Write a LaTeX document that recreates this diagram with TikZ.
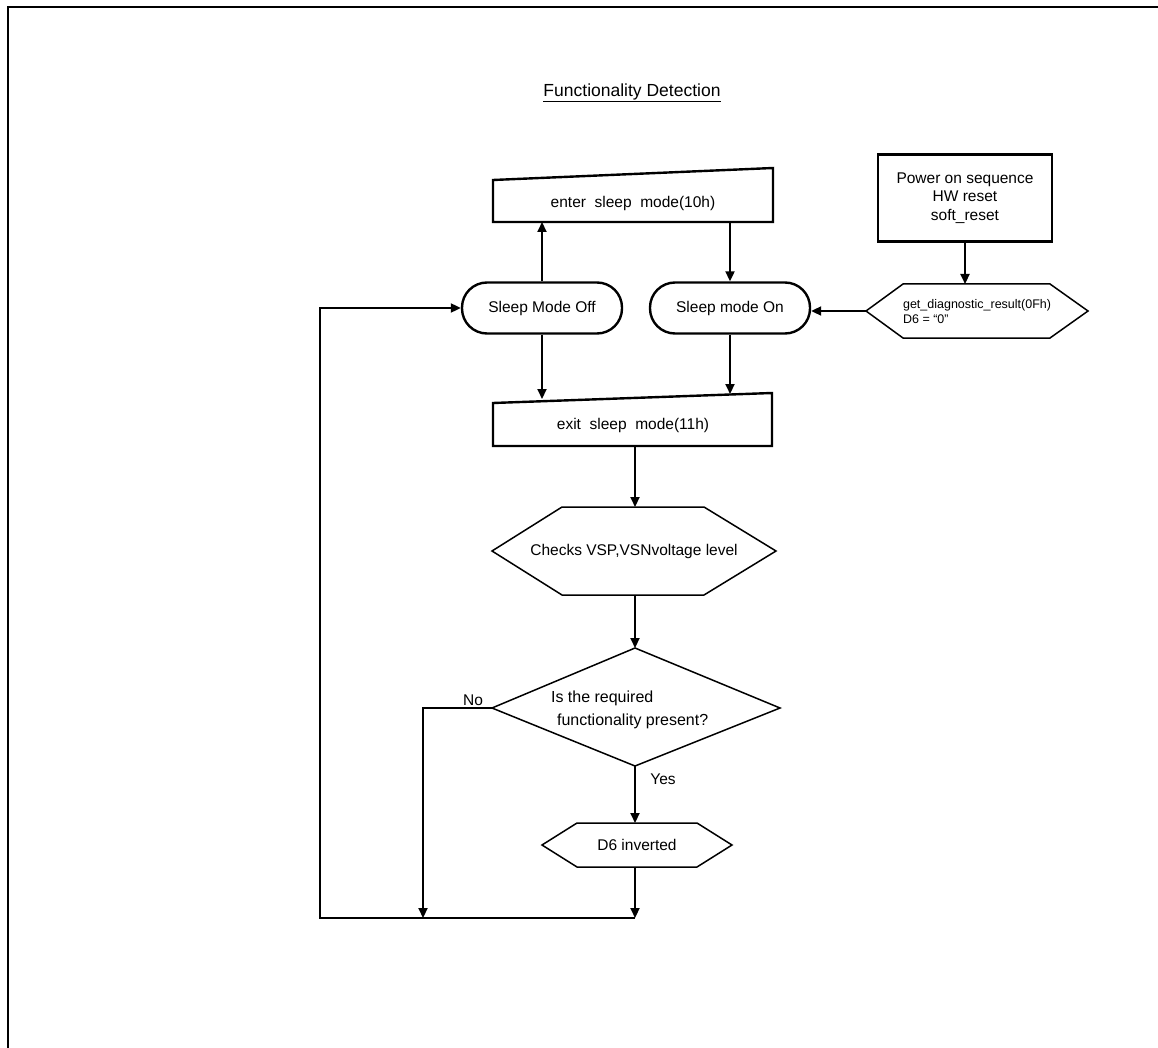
\documentclass[tikz,border=0pt]{standalone}
\usepackage{fontspec}
\setmainfont{Liberation Sans}
\usetikzlibrary{arrows.meta}
\begin{document}
\begin{tikzpicture}[x=1pt,y=-1pt,line width=2.1pt,line join=miter,
  >={Triangle[length=10pt,width=9pt]},
  lbl/.style={font=\fontsize{15.5}{18.5}\selectfont,inner sep=0pt},
  small/.style={font=\fontsize{12.5}{15}\selectfont,inner sep=0pt},
  thin/.style={line width=1.5pt},
  thick box/.style={line width=2.4pt},
  stadium/.style={draw,lbl,thick box,rounded corners=25pt,minimum width=160pt,minimum height=51pt},
  procbox/.style={draw,lbl,line width=2.8pt,minimum width=174pt,minimum height=87pt,align=center}]
\useasboundingbox (0,0) rectangle (1158,1048);
% frame
\draw[line width=2.6pt] (8,1048) -- (8,7) -- (1158,7);
% title
\node[font=\fontsize{17.5}{21}\selectfont,inner sep=0pt] (title) at (632,93) {\underline{Functionality Detection}};
% enter sleep mode (manual input)
\coordinate (enTL) at (493,180);
\coordinate (enTR) at (773,168);
\coordinate (enBR) at (773,222);
\coordinate (enBL) at (493,222);
\draw[thick box] (enTL) -- (enTR) -- (enBR) -- (enBL) -- cycle;
\node[lbl] (enter) at (633,203) {enter\ \ sleep\ \ mode(10h)};
% power on
\node[procbox] (power) at (965,198) {Power on sequence\\HW reset\\soft\_reset};
% diagnostic hexagon
\coordinate (dgL) at (866,311);
\coordinate (dgT) at (965,284);
\draw[thin] (dgL) -- (903,284) -- (1050,284) -- (1088,311) -- (1050,338) -- (903,338) -- cycle;
\node[small,align=left,anchor=west] (diag) at (902,312) {get\_diagnostic\_result(0Fh)\\D6 = “0”};
% stadiums
\node[stadium] (soff) at (542,308) {Sleep Mode Off};
\node[stadium] (son) at (730,308) {Sleep mode On};
% exit sleep mode
\coordinate (exTL) at (493,403);
\coordinate (exTR) at (772,393);
\coordinate (exBR) at (772,446);
\coordinate (exBL) at (493,446);
\draw[thick box] (exTL) -- (exTR) -- (exBR) -- (exBL) -- cycle;
\node[lbl] (exit) at (633,425) {exit\ \ sleep\ \ mode(11h)};
% checks hexagon
\coordinate (ckT) at (635,507);
\coordinate (ckB) at (635,595);
\draw[thin] (492,551) -- (562,507) -- (704,507) -- (776,551) -- (704,595) -- (562,595) -- cycle;
\node[lbl] (checks) at (634,551) {Checks VSP,VSNvoltage level};
% decision diamond
\coordinate (dmT) at (635,648);
\coordinate (dmL) at (492,708);
\coordinate (dmB) at (635,766);
\draw[thin] (dmT) -- (780,708) -- (dmB) -- (dmL) -- cycle;
\node[font=\fontsize{16}{19}\selectfont,inner sep=0pt,anchor=west] (q1) at (550,698) {Is the required};
\node[font=\fontsize{16}{19}\selectfont,inner sep=0pt,anchor=west] (q2) at (556,721) {functionality present?};
\node[lbl] (no) at (473,700) {No};
\node[lbl] (yes) at (663,779) {Yes};
% D6 inverted hexagon
\coordinate (d6T) at (635,823);
\coordinate (d6B) at (635,867);
\draw[thin] (542,845) -- (577,823) -- (697,823) -- (732,845) -- (697,867) -- (577,867) -- cycle;
\node[lbl] (d6) at (637,845) {D6 inverted};
% bottom merge points
\coordinate (jNo) at (423,918);
\coordinate (jYes) at (635,918);
\coordinate (jL) at (320,918);
% connectors
\draw[->] (soff.north) -- (soff.north |- enBL);
\draw[->] (son.north |- enBL) -- (son.north);
\draw[->] (power.south) -- (power.south |- dgT);
\draw[->] (dgL) -- (dgL -| son.east);
\draw[->] (soff.south) -- (542,399);
\draw[->] (son.south) -- (730,394);
\draw[->] (exBL -| ckT) -- (ckT);
\draw[->] (ckB) -- (dmT);
\draw[->] (dmL) -- (dmL -| jNo) -- (jNo);
\draw[->] (dmB) -- (d6T);
\draw[->] (d6B) -- (jYes);
\draw[->] (jYes) -- (jL) -- (jL |- soff.west) -- (soff.west);
\end{tikzpicture}
\end{document}
